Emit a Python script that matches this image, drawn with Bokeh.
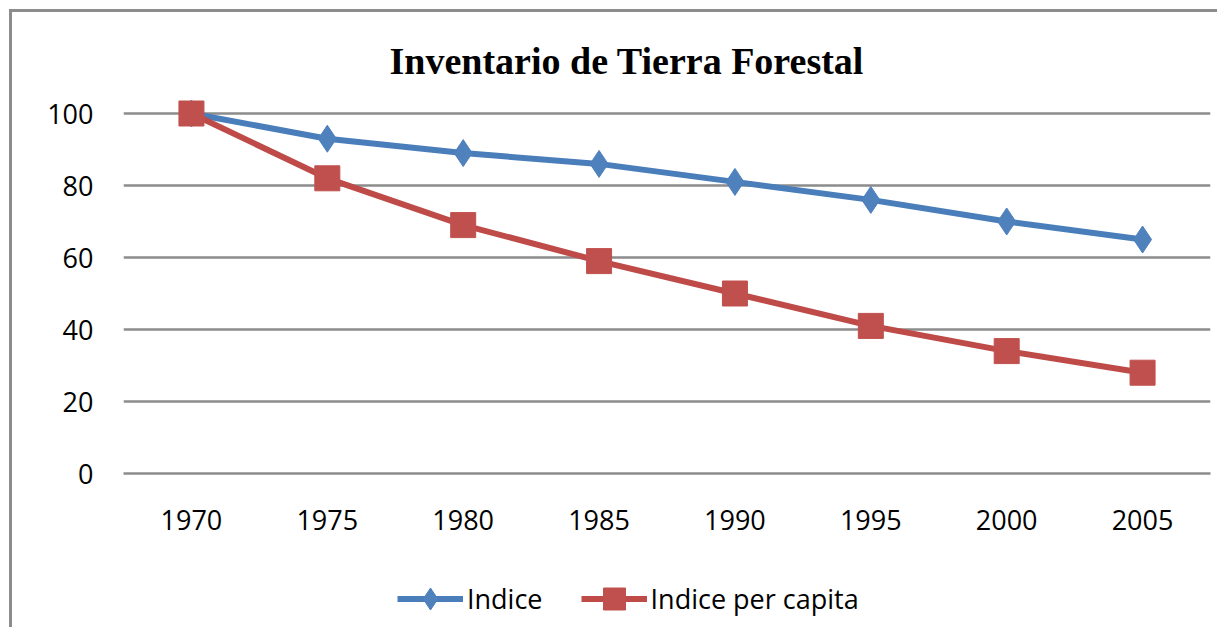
from bokeh.plotting import figure
from bokeh.layouts import column
from bokeh.models import Legend, LegendItem, FixedTicker, Range1d, Title
from bokeh.embed import file_html
from bokeh.resources import INLINE

years = ["1970", "1975", "1980", "1985", "1990", "1995", "2000", "2005"]
indice = [100, 93, 89, 86, 81, 76, 70, 65]
indice_pc = [100, 82, 69, 59, 50, 41, 34, 28]
y_ticks = [0, 20, 40, 60, 80, 100]
series_names = ["Indice", "Indice per capita"]

BLUE_LINE = "#4A7EBB"
BLUE_MARK = "#4F81BD"
RED_LINE = "#BE4B48"
RED_MARK = "#C0504D"
GRID = "#8c8c8c"
FONT = "Open Sans"

# ---------------- main chart ----------------
p = figure(width=1205, height=545, x_range=years, y_range=Range1d(0, 105),
           output_backend="svg", toolbar_location=None,
           min_border_left=111, min_border_right=7, min_border_top=83,
           min_border_bottom=84)
p.title = None
p.outline_line_color = None
p.background_fill_color = "white"
p.border_fill_color = "white"

t = Title(text="Inventario de Tierra Forestal", align="left", offset=266,
          text_font="Liberation Serif", text_font_style="bold",
          text_font_size="38px", text_color="black", standoff=27)
p.add_layout(t, "above")

p.xgrid.grid_line_color = None
p.ygrid.grid_line_color = GRID
p.ygrid.grid_line_width = 2.5
p.ygrid.ticker = FixedTicker(ticks=y_ticks)

p.yaxis.ticker = FixedTicker(ticks=y_ticks)
p.yaxis.axis_line_color = None
p.yaxis.major_tick_line_color = None
p.yaxis.minor_tick_line_color = None
p.yaxis.major_tick_out = 0
p.yaxis.major_label_standoff = 30
p.yaxis.major_label_text_font = FONT
p.yaxis.major_label_text_font_size = "27px"
p.yaxis.major_label_text_color = "black"

p.xaxis.axis_line_color = GRID
p.xaxis.axis_line_width = 2.5
p.xaxis.major_tick_line_color = None
p.xaxis.minor_tick_line_color = None
p.xaxis.major_label_standoff = 30
p.xaxis.major_label_text_font = FONT
p.xaxis.major_label_text_font_size = "27px"
p.xaxis.major_label_text_color = "black"

p.line(years, indice, line_color=BLUE_LINE, line_width=6, line_join="round")
p.scatter(years, indice, marker="diamond", size=27, fill_color=BLUE_MARK,
          line_color=BLUE_MARK, line_width=1)
p.line(years, indice_pc, line_color=RED_LINE, line_width=6, line_join="round")
p.scatter(years, indice_pc, marker="square", size=25, fill_color=RED_MARK,
          line_color=RED_MARK, line_width=1)

# ---------------- legend strip (series keys, data kept out of view) ----------------
lg = figure(width=1205, height=70, x_range=Range1d(0, 1), y_range=Range1d(-2, -1),
            x_axis_type=None, y_axis_type=None, output_backend="svg",
            toolbar_location=None, min_border=0)
lg.title = None
lg.outline_line_color = None
lg.xgrid.visible = False
lg.ygrid.visible = False
idx = list(range(len(years)))

kb = lg.line(idx, indice, line_color=BLUE_LINE, line_width=6)
kbs = lg.scatter(idx, indice, marker="diamond", size=20, fill_color=BLUE_MARK,
                 line_color=BLUE_MARK)
kr = lg.line(idx, indice_pc, line_color=RED_LINE, line_width=6)
krs = lg.scatter(idx, indice_pc, marker="square", size=20, fill_color=RED_MARK,
                 line_color=RED_MARK)

legend = Legend(items=[LegendItem(label=series_names[0], renderers=[kb, kbs]),
                       LegendItem(label=series_names[1], renderers=[kr, krs])],
                orientation="horizontal", location=(274, 1),
                glyph_width=66, glyph_height=55, label_standoff=4, spacing=38,
                padding=0, margin=0, border_line_color=None,
                background_fill_alpha=0,
                label_text_font=FONT, label_text_font_size="27px",
                label_text_color="black")
lg.add_layout(legend, "center")

layout = column(p, lg, spacing=0)
layout.styles = {"border-left": "3px solid #8c8c8c", "border-top": "3px solid #8c8c8c",
                 "margin-left": "9px", "margin-top": "9px"}

open("out.html", "w").write(file_html(layout, INLINE))
